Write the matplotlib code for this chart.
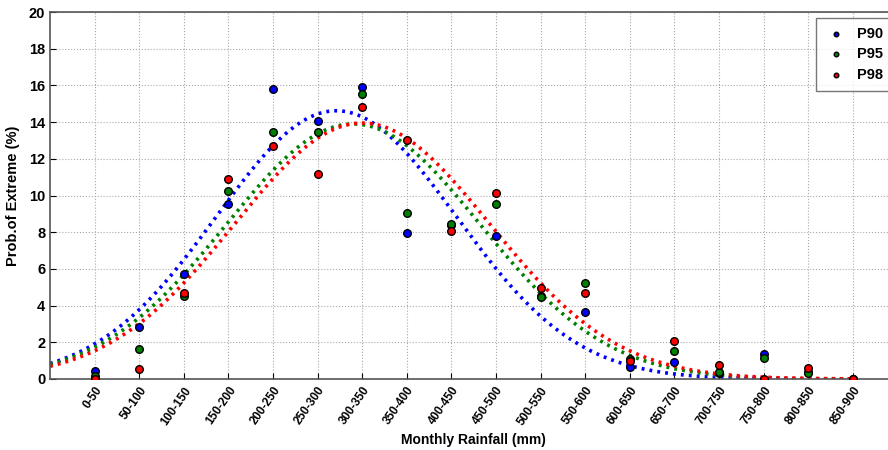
import numpy as np
import matplotlib
matplotlib.use('Agg')
import matplotlib.pyplot as plt

plt.rcParams['font.family'] = ['Liberation Sans', 'DejaVu Sans']
plt.rcParams['font.weight'] = 'bold'

# rainfall classes (upper bound, mm)
x = [50, 100, 150, 200, 250, 300, 350, 400, 450, 500, 550, 600, 650, 700, 750, 800, 850, 900]
labels = ['0-50', '50-100', '100-150', '150-200', '200-250', '250-300', '300-350', '350-400',
          '400-450', '450-500', '500-550', '550-600', '600-650', '650-700', '700-750',
          '750-800', '800-850', '850-900']

p90 = [0.44, 2.82, 5.73, 9.55, 15.8, 14.07, 15.9, 7.95, 8.4, 7.8, 4.5, 3.65, 0.67, 0.95, 0.3, 1.36, 0.4, 0.0]
p95 = [0.16, 1.62, 4.53, 10.24, 13.47, 13.45, 15.53, 9.07, 8.47, 9.51, 4.45, 5.25, 1.1, 1.53, 0.4, 1.13, 0.31, 0.0]
p98 = [0.0, 0.53, 4.67, 10.9, 12.7, 11.15, 14.84, 13.0, 8.09, 10.15, 4.95, 4.67, 1.0, 2.09, 0.76, 0.0, 0.58, 0.0]

# gaussian fit parameters: peak, centre, width
fit90 = [14.62, 321, 190]
fit95 = [13.9, 340, 201]
fit98 = [13.95, 350, 202]

fig = plt.figure(figsize=(8.88, 4.5), dpi=100)
ax = fig.add_axes([50/888, 71/450, 847.4/888, 367/450])

xx = np.linspace(0, 900, 400)
for fit, c in [(fit90, 'blue'), (fit95, 'green'), (fit98, 'red')]:
    a, b, w = fit
    ax.plot(xx, a*np.exp(-((xx-b)/w)**2), c=c, ls=(0, (0.8, 1.4)), lw=2.6, zorder=2)

for vals, c, name in [(p90, 'blue', 'P90'), (p95, 'green', 'P95'), (p98, 'red', 'P98')]:
    ax.scatter(x, vals, s=30, c=c, edgecolors='black', linewidths=1.0, zorder=3, label=name)

ax.set_xlim(0, 950)
ax.set_ylim(0, 20)
ax.set_xticks(x)
ax.set_xticklabels(labels, rotation=55, ha='right', rotation_mode='anchor', fontsize=8.5)
ax.set_yticks(range(0, 21, 2))
ax.tick_params(axis='y', labelsize=10.5, direction='in', length=4)
ax.tick_params(axis='x', direction='in', length=4, pad=4)
ax.grid(True, ls=':', color='#aaaaaa', lw=0.8)
ax.set_axisbelow(True)
for s in ax.spines.values():
    s.set_color('#555555')
    s.set_linewidth(1.2)

ax.set_xlabel('Monthly Rainfall (mm)', fontsize=10, fontweight='bold', labelpad=4)
ax.set_ylabel('Prob.of Extreme (%)', fontsize=10.5, fontweight='bold', labelpad=6)

leg = fig.legend(loc='upper left', bbox_to_anchor=(816/888, 432/450), fontsize=10.5,
                 markerscale=0.6, frameon=True, fancybox=False, edgecolor='#555555',
                 handletextpad=0.6, borderpad=0.6, borderaxespad=0, labelspacing=0.45,
                 handlelength=1.6)
for t in leg.get_texts():
    t.set_fontweight('bold')

fig.savefig('out.png', dpi=100)
